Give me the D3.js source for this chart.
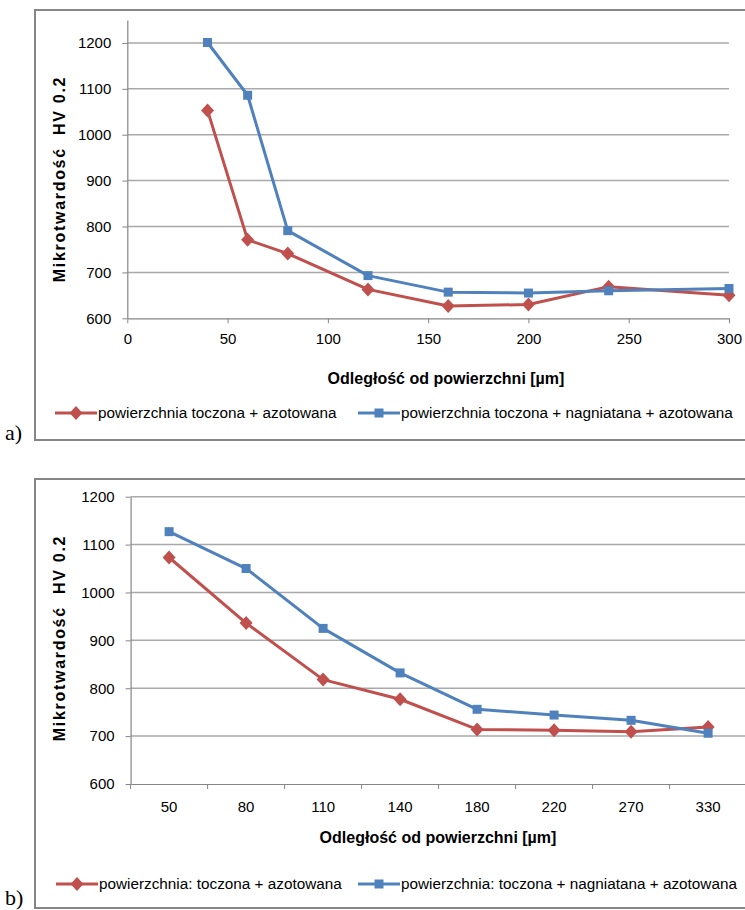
<!DOCTYPE html>
<html>
<head>
<meta charset="utf-8">
<script src="https://cdn.jsdelivr.net/npm/d3@7"></script>
<style>
  body { margin: 0; background: #fff; }
  svg { display: block; font-family: "Liberation Sans", Arial, sans-serif; }
</style>
</head>
<body>
<svg id="chart" width="745" height="910"></svg>
<script>
// panel a) - distance in um, hardness HV 0.2
const depthA = [40, 60, 80, 120, 160, 200, 240, 300];
const turnedA = [1053, 771, 741, 663, 627, 630, 669, 650];
const burnishedA = [1201, 1086, 791, 693, 657, 655, 660, 665];
const xTicksA = [0, 50, 100, 150, 200, 250, 300];

// panel b) - categorical distances
const depthB = ["50", "80", "110", "140", "180", "220", "270", "330"];
const turnedB = [1073, 936, 818, 777, 714, 712, 709, 719];
const burnishedB = [1127, 1050, 925, 832, 756, 744, 733, 706];

const yTicks = [600, 700, 800, 900, 1000, 1100, 1200];
const yTitle = "Mikrotwardość\u00a0\u00a0HV 0.2";
const xTitle = "Odległość od powierzchni [µm]";
const namesA = ["powierzchnia toczona + azotowana", "powierzchnia toczona + nagniatana + azotowana"];
const namesB = ["powierzchnia: toczona + azotowana", "powierzchnia: toczona + nagniatana + azotowana"];

const RED = "#c0504d", BLUE = "#4f81bd";

const svg = d3.select("#chart");

function diamond(g) {
  g.append("path").attr("d", "M0,-7L6.5,0L0,7L-6.5,0Z");
}
function square(g) {
  g.append("rect").attr("x", -4.5).attr("y", -4.5).attr("width", 9).attr("height", 9);
}

function drawPanel(opt) {
  const root = svg.append("g");

  // outer frame (runs off the right edge like the original)
  root.append("rect")
    .attr("x", 35).attr("y", opt.frameTop)
    .attr("width", 760).attr("height", opt.frameBottom - opt.frameTop)
    .attr("fill", "none").attr("stroke", "#868686").attr("stroke-width", 2);

  root.append("text")
    .attr("x", 5).attr("y", opt.labelY)
    .attr("font-family", "'Liberation Serif', 'Times New Roman', serif")
    .attr("font-size", 22).attr("fill", "#000")
    .text(opt.label);

  const y = opt.y;
  const [x0, x1] = opt.xRange;

  // gridlines
  root.append("g").selectAll("line")
    .data(yTicks.filter(d => d > 600))
    .join("line")
    .attr("x1", x0).attr("x2", x1)
    .attr("y1", d => y(d)).attr("y2", d => y(d))
    .attr("stroke", "#a9a9a9").attr("stroke-width", 1.5);

  // y axis
  const yAxis = root.append("g")
    .attr("transform", `translate(${x0},0)`)
    .call(d3.axisLeft(y).tickValues(yTicks).tickFormat(d3.format("d"))
      .tickSize(5).tickPadding(11).tickSizeOuter(0));
  yAxis.select(".domain").attr("stroke", "#868686").attr("stroke-width", 1.2);
  yAxis.selectAll(".tick line").attr("stroke", "#868686");
  yAxis.selectAll("text").attr("font-size", 15).attr("fill", "#000")
    .attr("font-family", "'Liberation Sans', Arial, sans-serif");

  // x axis
  const xAxis = root.append("g")
    .attr("transform", `translate(0,${y(600)})`)
    .call(opt.xAxis);
  xAxis.select(".domain").attr("stroke", "#868686").attr("stroke-width", 1.2);
  xAxis.selectAll(".tick line").attr("stroke", "#868686");
  xAxis.selectAll("text").attr("font-size", 15).attr("fill", "#000")
    .attr("font-family", "'Liberation Sans', Arial, sans-serif");

  // titles
  root.append("text")
    .attr("transform", `translate(65,${opt.yTitleY}) rotate(-90)`)
    .attr("text-anchor", "middle")
    .attr("font-size", 16).attr("font-weight", "bold")
    .attr("letter-spacing", 1.7)
    .text(yTitle);

  root.append("text")
    .attr("x", opt.xTitleX).attr("y", opt.xTitleY)
    .attr("text-anchor", "middle")
    .attr("font-size", 16).attr("font-weight", "bold")
    .text(xTitle);

  // series
  const line = d3.line().x(d => d[0]).y(d => d[1]);
  opt.series.forEach(s => {
    const pts = opt.xVals.map((v, i) => [opt.xPos(v), y(s.values[i])]);
    root.append("path")
      .attr("d", line(pts))
      .attr("fill", "none").attr("stroke", s.color)
      .attr("stroke-width", 3).attr("stroke-linejoin", "round");
    root.append("g").attr("fill", s.color)
      .selectAll("g").data(pts).join("g")
      .attr("transform", d => `translate(${d[0]},${d[1]})`)
      .each(function () { s.marker(d3.select(this)); });
  });

  // legend
  opt.series.forEach((s, i) => {
    const lx = opt.legendX[i];
    const lg = root.append("g").attr("transform", `translate(${lx},${opt.legendY})`);
    lg.append("line").attr("x1", 0).attr("x2", 42)
      .attr("stroke", s.color).attr("stroke-width", 3);
    const m = lg.append("g").attr("fill", s.color).attr("transform", "translate(21,0)");
    s.marker(m);
    lg.append("text").attr("x", 43).attr("dy", "0.35em")
      .attr("font-size", 15.3).attr("fill", "#000")
      .text(s.name);
  });
}

// ---- panel a)
const xA = d3.scaleLinear().domain([0, 300]).range([127.3, 729]);
const yA = d3.scaleLinear().domain([600, 1250]).range([318.3, 20]);
drawPanel({
  label: "a)", labelY: 440,
  frameTop: 10, frameBottom: 440,
  y: yA, xRange: [127.3, 729],
  xAxis: d3.axisBottom(xA).tickValues(xTicksA).tickSize(5).tickPadding(10).tickSizeOuter(0),
  xVals: depthA, xPos: xA,
  yTitleY: 179, xTitleX: 446, xTitleY: 384,
  legendX: [55, 358], legendY: 413,
  series: [
    { name: namesA[0], values: turnedA, color: RED, marker: diamond },
    { name: namesA[1], values: burnishedA, color: BLUE, marker: square }
  ]
});

// ---- panel b)
const xB = d3.scaleBand().domain(depthB).range([130.6, 746.6]);
const yB = d3.scaleLinear().domain([600, 1200]).range([784, 496.7]);
drawPanel({
  label: "b)", labelY: 905,
  frameTop: 479, frameBottom: 908,
  y: yB, xRange: [130.6, 760],
  xAxis: d3.axisBottom(xB).tickSize(0).tickPadding(17).tickSizeOuter(0),
  xVals: depthB, xPos: d => xB(d) + xB.bandwidth() / 2,
  yTitleY: 638, xTitleX: 438, xTitleY: 843,
  legendX: [56, 358], legendY: 884,
  series: [
    { name: namesB[0], values: turnedB, color: RED, marker: diamond },
    { name: namesB[1], values: burnishedB, color: BLUE, marker: square }
  ]
});

// band-boundary ticks for panel b)
svg.append("g").selectAll("line")
  .data(depthB)
  .join("line")
  .attr("x1", d => xB(d)).attr("x2", d => xB(d))
  .attr("y1", yB(600)).attr("y2", yB(600) + 5)
  .attr("stroke", "#868686");
</script>
</body>
</html>
